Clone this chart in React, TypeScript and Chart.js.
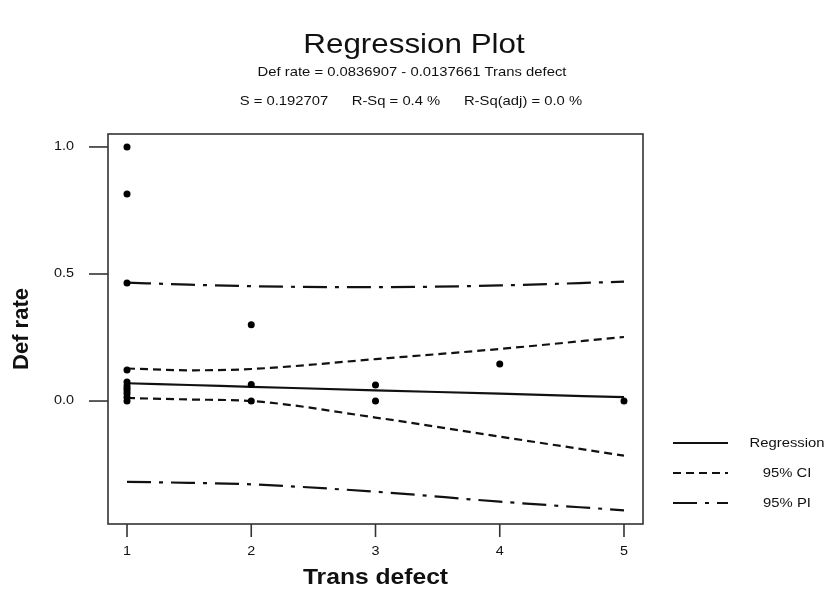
import React, { useEffect, useRef } from "react";
import { Chart, registerables } from "chart.js";

Chart.register(...registerables);

// ---- data ----
const pointX = [1, 1, 1, 1, 1, 1, 1, 1, 1, 1, 1, 2, 2, 2, 3, 3, 4, 5];
const pointY = [1.0, 0.815, 0.465, 0.122, 0.075, 0.06, 0.05, 0.04, 0.03, 0.015, 0.0, 0.3, 0.065, 0.0, 0.063, 0.0, 0.146, 0.0];

const bandX = [1, 1.5, 2, 3, 4, 5];
const regY = [0.07, 0.063, 0.056, 0.042, 0.029, 0.015];
const ciUpper = [0.128, 0.121, 0.126, 0.165, 0.205, 0.252];
const ciLower = [0.012, 0.006, 0.0, -0.065, -0.14, -0.215];
const piUpper = [0.466, 0.458, 0.452, 0.448, 0.455, 0.47];
const piLower = [-0.318, -0.322, -0.328, -0.357, -0.396, -0.43];

const xTicks = [1, 2, 3, 4, 5];
const xTickLabels = ["1", "2", "3", "4", "5"];
const yTicks = [0, 0.5, 1.0];
const yTickLabels = ["0.0", "0.5", "1.0"];

const titleText = "Regression Plot";
const equationText = "Def rate = 0.0836907 - 0.0137661 Trans defect";
const statsTexts = ["S = 0.192707", "R-Sq = 0.4 %", "R-Sq(adj) = 0.0 %"];
const xTitle = "Trans defect";
const yTitle = "Def rate";
const legendLabels = ["Regression", "95% CI", "95% PI"];

const X_MIN = 0.847;
const X_MAX = 5.153;
const Y_MIN = -0.484;
const Y_MAX = 1.051;

const FONT = '"Liberation Sans", Arial, sans-serif';
const SX = 1.14;
const INK = "#111";

const CI_DASH = [8, 5];
const PI_DASH = [24, 8, 4, 8];

function txt(
  ctx: CanvasRenderingContext2D,
  s: string,
  x: number,
  y: number,
  size: number,
  align: CanvasTextAlign = "center",
  weight = "normal",
  sx = SX
) {
  ctx.save();
  ctx.translate(x, y);
  ctx.scale(sx, 1);
  ctx.font = `${weight} ${size}px ${FONT}`;
  ctx.fillStyle = INK;
  ctx.textAlign = align;
  ctx.textBaseline = "middle";
  ctx.fillText(s, 0, 0);
  ctx.restore();
}

const pairs = (xs: number[], ys: number[]) => xs.map((x, i) => ({ x, y: ys[i] }));

const decorPlugin = {
  id: "decor",
  afterDraw(chart: any) {
    const ctx: CanvasRenderingContext2D = chart.ctx;
    const a = chart.chartArea;
    const xs = chart.scales.x;
    const ys = chart.scales.y;
    ctx.save();
    // frame
    ctx.strokeStyle = "#333";
    ctx.lineWidth = 1.6;
    ctx.setLineDash([]);
    ctx.strokeRect(a.left, a.top, a.right - a.left, a.bottom - a.top);
    // y ticks
    yTicks.forEach((v, i) => {
      const py = ys.getPixelForValue(v);
      ctx.beginPath();
      ctx.moveTo(a.left - 19, py);
      ctx.lineTo(a.left, py);
      ctx.stroke();
      txt(ctx, yTickLabels[i], a.left - 34, py, 12, "right", "normal", 1.2);
    });
    // x ticks
    xTicks.forEach((v, i) => {
      const px = xs.getPixelForValue(v);
      ctx.beginPath();
      ctx.moveTo(px, a.bottom);
      ctx.lineTo(px, a.bottom + 13);
      ctx.stroke();
      txt(ctx, xTickLabels[i], px, 552, 12, "center", "normal", 1.2);
    });
    // titles
    txt(ctx, titleText, 414, 45, 28, "center", "normal", 1.12);
    txt(ctx, equationText, 412, 72, 13);
    const statX = [284, 396, 523];
    statsTexts.forEach((s, i) => txt(ctx, s, statX[i], 101, 13));
    txt(ctx, xTitle, (a.left + a.right) / 2, 578, 22, "center", "bold", 1.12);
    ctx.save();
    ctx.translate(22, (a.top + a.bottom) / 2);
    ctx.rotate(-Math.PI / 2);
    ctx.font = `bold 22px ${FONT}`;
    ctx.fillStyle = INK;
    ctx.textAlign = "center";
    ctx.textBaseline = "middle";
    ctx.fillText(yTitle, 0, 0);
    ctx.restore();
    // legend
    const ly = [443, 473, 503];
    const dashes = [[], CI_DASH, PI_DASH];
    ly.forEach((y, i) => {
      ctx.strokeStyle = "#111";
      ctx.lineWidth = 2;
      ctx.setLineDash(dashes[i]);
      ctx.beginPath();
      ctx.moveTo(673, y);
      ctx.lineTo(728, y);
      ctx.stroke();
      txt(ctx, legendLabels[i], 787, y, 13, "center");
    });
    ctx.restore();
  },
};

export default function App() {
  const ref = useRef<HTMLCanvasElement>(null);
  useEffect(() => {
    document.body.style.margin = "0";
    const lineDs = (label: string, ys: number[], dash: number[]) => ({
      label,
      data: pairs(bandX, ys),
      showLine: true,
      borderColor: "#111",
      backgroundColor: "#111",
      borderWidth: 2.2,
      borderDash: dash,
      pointRadius: 0,
      cubicInterpolationMode: "monotone" as const,
      order: 2,
    });
    const chart = new Chart(ref.current as HTMLCanvasElement, {
      type: "scatter",
      data: {
        datasets: [
          {
            label: "Data",
            data: pairs(pointX, pointY),
            pointRadius: 3.5,
            pointBackgroundColor: "#000",
            pointBorderColor: "#000",
            pointBorderWidth: 0,
            showLine: false,
            order: 1,
          },
          lineDs("Regression", regY, []),
          lineDs("95% CI upper", ciUpper, CI_DASH),
          lineDs("95% CI lower", ciLower, CI_DASH),
          lineDs("95% PI upper", piUpper, PI_DASH),
          lineDs("95% PI lower", piLower, PI_DASH),
        ],
      },
      options: {
        animation: false,
        responsive: true,
        maintainAspectRatio: false,
        layout: { padding: { top: 134, right: 185, bottom: 0, left: 0 } },
        plugins: { legend: { display: false }, tooltip: { enabled: false }, title: { display: false } },
        scales: {
          x: {
            type: "linear",
            min: X_MIN,
            max: X_MAX,
            grid: { display: false },
            border: { display: false },
            ticks: { display: false },
            afterFit: (s: any) => {
              s.height = 72;
            },
          },
          y: {
            type: "linear",
            min: Y_MIN,
            max: Y_MAX,
            grid: { display: false },
            border: { display: false },
            ticks: { display: false },
            afterFit: (s: any) => {
              s.width = 108;
            },
          },
        },
      },
      plugins: [decorPlugin],
    });
    return () => chart.destroy();
  }, []);
  return (
    <div style={{ position: "absolute", left: 0, top: 0, width: 828, height: 596, background: "#fff" }}>
      <canvas ref={ref} />
    </div>
  );
}
